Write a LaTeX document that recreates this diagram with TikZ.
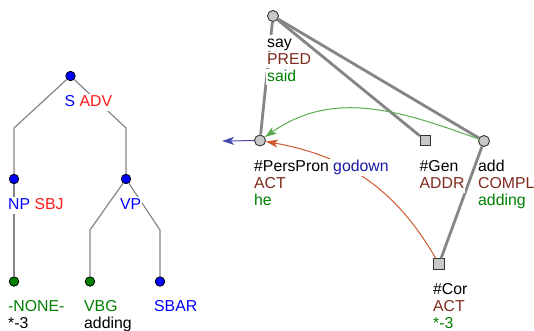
\documentclass[tikz,border=0pt]{standalone}
\usepackage{fontspec}
\setmainfont{Liberation Sans}
\usepackage{xcolor}
\usetikzlibrary{arrows.meta}
\definecolor{tag_blue}{HTML}{0000FF}
\definecolor{tag_red}{HTML}{FF1A1A}
\definecolor{tag_green}{HTML}{008000}
\definecolor{func_brown}{HTML}{7F2A1D}
\definecolor{lemma_blue}{HTML}{1A1AA6}
\definecolor{edge_gray}{HTML}{858585}
\definecolor{node_gray}{HTML}{C8C8C8}
\definecolor{arr_green}{HTML}{5AAA50}
\definecolor{arr_orange}{HTML}{CF5A2E}
\definecolor{arr_blue}{HTML}{4A4AAA}

% one label line on its own white patch, so edges stay visible beside shorter lines
\newcommand{\labline}[1]{{\fboxsep=1pt\colorbox{white}{\rule[-3pt]{0pt}{14.5pt}#1}}}
\newcommand{\plainline}[1]{\hspace{1pt}\rule[-3pt]{0pt}{14.5pt}#1}

\begin{document}
\begin{tikzpicture}[
    x=1pt, y=-1pt,
    ptnode/.style={circle, draw=black, line width=0.8pt, inner sep=0pt, minimum size=9.5pt},
    ntnode/.style={ptnode, fill=tag_blue},
    tnode/.style={ptnode, fill=tag_green},
    gcirc/.style={circle, draw=black!80, fill=node_gray, line width=0.9pt, inner sep=0pt, minimum size=11pt},
    gsq/.style={rectangle, draw=black!80, fill=node_gray, line width=0.9pt, inner sep=0pt, minimum size=10.5pt},
    pedge/.style={draw=edge_gray, line width=1.2pt},
    tedge/.style={draw=edge_gray, line width=2.8pt},
    lbl/.style={anchor=north west, align=left, inner sep=0pt,
        font=\fontsize{15.8}{17}\selectfont},
    coref/.style={-{Stealth[length=12pt, width=8pt, inset=3pt]}, line width=1pt}
]
\useasboundingbox (0,0) rectangle (534,330);

%% ================================================================
%% phrase structure tree
%% ================================================================
\coordinate (knee) at (0,128);
\coordinate (knee2) at (0,230);

\node[ntnode] (s)     at (70.5,76)  {};
\node[ntnode] (np)    at (14,179)   {};
\node[ntnode] (vp)    at (126,179)  {};
\node[tnode]  (none)  at (14,281.5) {};
\node[tnode]  (vbg)   at (90,281.5) {};
\node[ntnode] (sbar)  at (160,281.5) {};

\draw[pedge] (s) -- (np |- knee) -- (np);
\draw[pedge] (s) -- (vp |- knee) -- (vp);
\draw[pedge] (np) -- (none);
\draw[pedge] (vp) -- (vbg |- knee2) -- (vbg);
\draw[pedge] (vp) -- (sbar |- knee2) -- (sbar);

\node[lbl] (s-l)    at ([shift={(-7,18)}]s.center)
    {\labline{\textcolor{tag_blue}{S} \textcolor{tag_red}{ADV}}};
\node[lbl] (np-l)   at ([shift={(-7,18)}]np.center)
    {\labline{\textcolor{tag_blue}{NP} \textcolor{tag_red}{SBJ}}};
\node[lbl] (vp-l)   at ([shift={(-7,18)}]vp.center)
    {\labline{\textcolor{tag_blue}{VP}}};
\node[lbl] (none-l) at ([shift={(-7,17.5)}]none.center)
    {\labline{\textcolor{tag_green}{-NONE-}}\\\labline{*-3}};
\node[lbl] (vbg-l)  at ([shift={(-7,17.5)}]vbg.center)
    {\labline{\textcolor{tag_green}{VBG}}\\\labline{adding}};
\node[lbl] (sbar-l) at ([shift={(-7,17.5)}]sbar.center)
    {\labline{\textcolor{tag_blue}{SBAR}}};

%% ================================================================
%% dependency tree
%% ================================================================
\coordinate (rstub) at (222,141);

\node[gcirc] (say)      at (273,16)     {};
\node[gcirc] (perspron) at (260,140.5)  {};
\node[gsq]   (gen)      at (425.5,140.5) {};
\node[gcirc] (add)      at (484,141)    {};
\node[gsq]   (cor)      at (439,264)    {};

\draw[tedge] (say) -- (perspron);
\draw[tedge] (say) -- (gen);
\draw[tedge] (say) -- (add);
\draw[tedge] (add) -- (cor);

%% --- coreference arrows ---
\draw[coref, arr_green]  (add) to[out=160, in=35] (perspron);
\draw[coref, arr_orange] (cor) to[out=120, in=-10] (perspron);
\draw[coref, arr_blue]   (perspron) -- (rstub);

\node[lbl] (say-l) at ([shift={(-7,18.5)}]say.center)
    {\labline{say}\\\labline{\textcolor{func_brown}{PRED}}\\\labline{\textcolor{tag_green}{said}}};
\node[lbl] (perspron-l) at ([shift={(-7,18.5)}]perspron.center)
    {\labline{\#PersPron \textcolor{lemma_blue}{godown}}\\\labline{\textcolor{func_brown}{ACT}}\\\labline{\textcolor{tag_green}{he}}};
\node[lbl] (gen-l) at ([shift={(-7,18.5)}]gen.center)
    {\labline{\#Gen}\\\labline{\textcolor{func_brown}{ADDR}}};
\node[lbl] (add-l) at ([shift={(-7,18.5)}]add.center)
    {\plainline{add}\\\plainline{\textcolor{func_brown}{COMPL}}\\\plainline{\textcolor{tag_green}{adding}}};
\node[lbl] (cor-l) at ([shift={(-7,17.5)}]cor.center)
    {\labline{\#Cor}\\\labline{\textcolor{func_brown}{ACT}}\\\labline{\textcolor{tag_green}{*-3}}};

\end{tikzpicture}
\end{document}
